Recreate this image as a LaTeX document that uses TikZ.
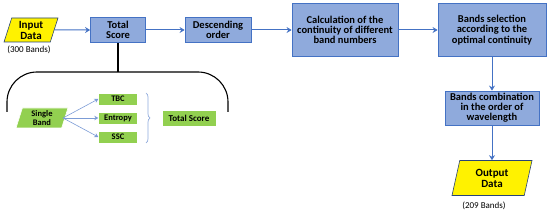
\documentclass[tikz,border=0pt]{standalone}
\usepackage{fontspec}
\setmainfont{Carlito}
\usetikzlibrary{shapes.geometric, arrows.meta, positioning, decorations.pathreplacing}

\definecolor{boxblue}{HTML}{8FAADC}
\definecolor{lineblue}{HTML}{4472C4}
\definecolor{leafgreen}{HTML}{92D050}

\begin{document}
\begin{tikzpicture}[
    x=1pt, y=-1pt,
    block/.style={rectangle, draw=lineblue, fill=boxblue, line width=0.8pt, align=center, inner sep=1pt, font=\bfseries\fontsize{10.5}{10.2}\selectfont},
    data/.style={trapezium, trapezium left angle=67, trapezium right angle=113, trapezium stretches body, draw=lineblue!60!black, fill=yellow, line width=0.6pt, align=center, inner sep=0pt, font=\bfseries\fontsize{11}{11}\selectfont},
    leaf/.style={rectangle, fill=leafgreen, draw=white, line width=0.4pt, align=center, inner sep=0pt, font=\bfseries\fontsize{8.5}{9}\selectfont},
    note/.style={font=\fontsize{9}{9}\selectfont},
    arrow/.style={-{Stealth[length=5pt, width=6pt]}, line width=1pt, lineblue},
    twig/.style={-{Stealth[length=4pt, width=4.5pt]}, line width=0.6pt, lineblue!70}
]
    \useasboundingbox (0,0) rectangle (550,213);

    % main row
    \node[data, minimum width=54pt, minimum height=24pt] (input) at (31,30) {Input\\Data};
    \node[note] (inbands) at (29,50) {(300 Bands)};
    \node[block, minimum width=55pt, minimum height=25pt] (total) at (118,30) {Total\\Score};
    \node[block, minimum width=66pt, minimum height=25pt] (order) at (218,30) {Descending\\order};
    \node[block, minimum width=106pt, minimum height=53pt] (contin) at (345,30) {Calculation of the\\continuity of different\\band numbers};
    \node[block, minimum width=108pt, minimum height=53pt] (select) at (492,30) {Bands selection\\according to the\\optimal continuity};
    \node[block, minimum width=94pt, minimum height=34pt] (combine) at (492,108) {Bands combination\\in the order of\\wavelength};
    \node[data, minimum width=80pt, minimum height=35pt] (output) at (492,178) {Output\\Data};
    \node[note] (outbands) at (484,206) {(209 Bands)};

    \draw[arrow] (input) -- (total);
    \draw[arrow] (total) -- (order);
    \draw[arrow] (order) -- (contin);
    \draw[arrow] (contin) -- (select);
    \draw[arrow] (select) -- (combine);
    \draw[arrow] (combine) -- (output);

    % detail of the total score
    \coordinate (capTop) at (118,72);
    \draw[line width=1.1pt, rounded corners=30pt] (7,112) -- (7,72) -- (228,72) -- (228,112);
    \draw[line width=1.1pt] (total) -- (capTop);

    \node[data, fill=leafgreen, draw=white, minimum width=52pt, minimum height=20pt, font=\bfseries\fontsize{8.5}{9}\selectfont] (single) at (42,118) {Single\\Band};
    \node[leaf, minimum width=39pt, minimum height=12pt] (tbc) at (118,99) {TBC};
    \node[leaf, minimum width=39pt, minimum height=12pt] (entropy) at (118,118) {Entropy};
    \node[leaf, minimum width=39pt, minimum height=12pt] (ssc) at (118,137) {SSC};
    \node[leaf, minimum width=54pt, minimum height=16pt, font=\bfseries\fontsize{9}{9}\selectfont] (score) at (189,118) {Total Score};

    \coordinate (fork) at (63,118);
    \draw[twig] (fork) -- (tbc.west);
    \draw[twig] (fork) -- (entropy.west);
    \draw[twig] (fork) -- (ssc.west);

    \draw[decorate, decoration={brace, amplitude=4pt}, line width=0.7pt, lineblue!60] (146,93) -- (146,143);
\end{tikzpicture}
\end{document}
